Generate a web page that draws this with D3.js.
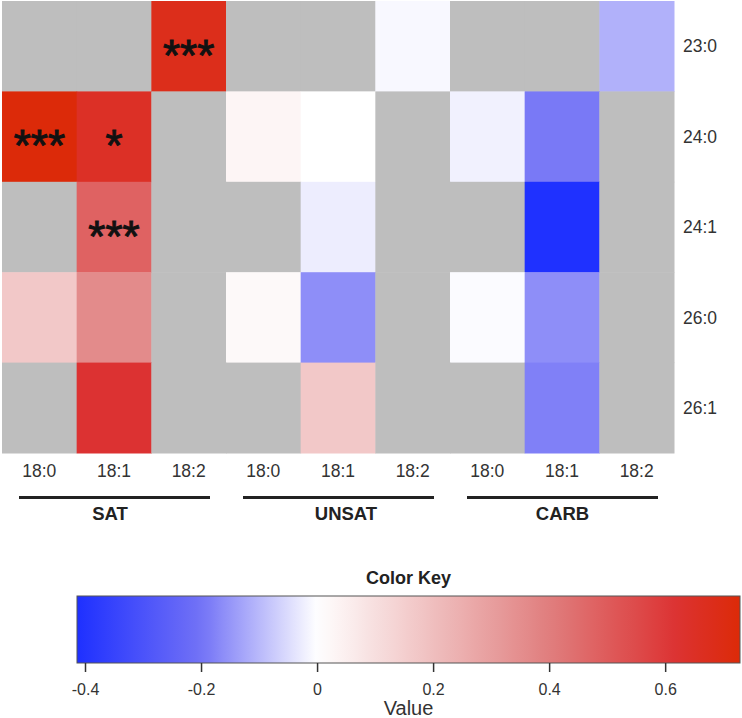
<!DOCTYPE html>
<html>
<head>
<meta charset="utf-8">
<script src="https://cdn.jsdelivr.net/npm/d3@7"></script>
<style>
  html, body { margin: 0; padding: 0; background: #ffffff; }
  svg { display: block; font-family: "Liberation Sans", Arial, Helvetica, sans-serif; }
</style>
</head>
<body>
<svg id="chart" width="742" height="718"></svg>
<script>
// ---------- data ----------
const groups = ["SAT", "UNSAT", "CARB"];
const subLabels = ["18:0", "18:1", "18:2"];
const rowLabels = ["23:0", "24:0", "24:1", "26:0", "26:1"];
// values per row, columns: SAT 18:0,18:1,18:2 | UNSAT 18:0,18:1,18:2 | CARB 18:0,18:1,18:2 ; null = NA (grey)
const row_23_0 = [null, null, 0.68, null, null, -0.01, null, null, -0.11];
const row_24_0 = [0.727, 0.65, null, 0.03, 0.0, null, -0.02, -0.19, null];
const row_24_1 = [null, 0.48, null, null, -0.025, null, null, -0.41, null];
const row_26_0 = [0.17, 0.36, null, 0.02, -0.16, null, -0.005, -0.16, null];
const row_26_1 = [null, 0.62, null, null, 0.17, null, null, -0.18, null];
const values = [row_23_0, row_24_0, row_24_1, row_26_0, row_26_1];
// significance stars: [rowIndex, colIndex, label]
const starRows = [0, 1, 1, 2];
const starCols = [2, 0, 1, 1];
const starLabels = ["***", "***", "*", "***"];
const keyTicks = [-0.4, -0.2, 0, 0.2, 0.4, 0.6];
const keyMin = -0.4138, keyMax = 0.729;

// ---------- setup ----------
const svg = d3.select("#chart");
const colKeys = [];
groups.forEach(g => subLabels.forEach(s => colKeys.push(g + "|" + s)));

const x = d3.scaleBand().domain(colKeys).range([2, 674]).padding(0);
const y = d3.scaleBand().domain(rowLabels).range([1, 453]).padding(0);

const color = d3.scaleLinear()
  .domain([keyMin, -0.2, 0, 0.4, 0.62, keyMax])
  .range(["#1e30ff", "#7272f6", "#ffffff", "#e07e7e", "#dc3232", "#dc2a08"])
  .clamp(true);
const naColor = "#bebebe";

// ---------- cells ----------
const cells = [];
values.forEach((row, ri) => row.forEach((v, ci) => cells.push({ r: rowLabels[ri], c: colKeys[ci], v })));

svg.append("g").selectAll("rect").data(cells).join("rect")
  .attr("x", d => x(d.c))
  .attr("y", d => y(d.r))
  .attr("width", x.bandwidth() + 0.5)
  .attr("height", y.bandwidth() + 0.5)
  .attr("fill", d => d.v === null ? naColor : color(d.v));

// ---------- stars ----------
const starFont = 44;
svg.append("g").selectAll("text").data(starLabels.map((l, i) => ({ l, r: starRows[i], c: starCols[i] }))).join("text")
  .attr("x", d => x(colKeys[d.c]) + x.bandwidth() / 2)
  .attr("y", d => y(rowLabels[d.r]) + y.bandwidth() / 2 + starFont * 0.56)
  .attr("text-anchor", "middle")
  .attr("font-size", starFont)
  .attr("fill", "#111")
  .attr("stroke", "#111")
  .attr("stroke-width", 1)
  .text(d => d.l);

// ---------- row labels ----------
svg.append("g").selectAll("text").data(rowLabels).join("text")
  .attr("x", 683)
  .attr("y", d => y(d) + y.bandwidth() / 2)
  .attr("dy", "0.35em")
  .attr("font-size", 17.5)
  .attr("fill", "#333")
  .text(d => d);

// ---------- column labels ----------
svg.append("g").selectAll("text").data(colKeys).join("text")
  .attr("x", d => x(d) + x.bandwidth() / 2)
  .attr("y", 471)
  .attr("dy", "0.35em")
  .attr("text-anchor", "middle")
  .attr("font-size", 17.5)
  .attr("fill", "#333")
  .text(d => d.split("|")[1]);

// ---------- group lines & labels ----------
const gG = svg.append("g");
const labelShift = [-4.5, 7.5, 0];
groups.forEach((g, gi) => {
  const x0 = x(g + "|" + subLabels[0]);
  const x1 = x(g + "|" + subLabels[2]) + x.bandwidth();
  gG.append("line")
    .attr("x1", x0 + 17).attr("x2", x1 - 16)
    .attr("y1", 497.5).attr("y2", 497.5)
    .attr("stroke", "#222").attr("stroke-width", 3);
  gG.append("text")
    .attr("x", (x0 + 17 + x1 - 16) / 2 + labelShift[gi])
    .attr("y", 514)
    .attr("dy", "0.35em")
    .attr("text-anchor", "middle")
    .attr("font-size", 18.5)
    .attr("font-weight", "bold")
    .attr("fill", "#222")
    .text(g);
});

// ---------- color key ----------
const kx = d3.scaleLinear().domain([keyMin, keyMax]).range([77, 740]);
const kTop = 596, kBot = 663;

const defs = svg.append("defs");
const grad = defs.append("linearGradient").attr("id", "keygrad")
  .attr("x1", "0%").attr("x2", "100%").attr("y1", "0%").attr("y2", "0%");
d3.range(0, 1.0001, 0.02).forEach(t => {
  const v = keyMin + t * (keyMax - keyMin);
  grad.append("stop").attr("offset", (t * 100) + "%").attr("stop-color", color(v));
});

svg.append("rect")
  .attr("x", kx(keyMin)).attr("y", kTop)
  .attr("width", kx(keyMax) - kx(keyMin)).attr("height", kBot - kTop)
  .attr("fill", "url(#keygrad)")
  .attr("stroke", "#555").attr("stroke-width", 1);

const axis = d3.axisBottom(kx)
  .tickValues(keyTicks)
  .tickFormat(d => d === 0 ? "0" : String(d))
  .tickSizeInner(9).tickSizeOuter(0).tickPadding(12);

const ag = svg.append("g").attr("transform", `translate(0,${kBot})`).call(axis);
ag.select(".domain").remove();
ag.selectAll(".tick line").attr("stroke", "#333").attr("stroke-width", 1.5);
ag.selectAll(".tick text").attr("font-size", 16).attr("fill", "#333")
  .attr("font-family", "'Liberation Sans', Arial, sans-serif");

svg.append("text")
  .attr("x", (kx(keyMin) + kx(keyMax)) / 2)
  .attr("y", 578).attr("dy", "0.35em")
  .attr("text-anchor", "middle")
  .attr("font-size", 18).attr("font-weight", "bold").attr("fill", "#222")
  .text("Color Key");

svg.append("text")
  .attr("x", (kx(keyMin) + kx(keyMax)) / 2)
  .attr("y", 708).attr("dy", "0.35em")
  .attr("text-anchor", "middle")
  .attr("font-size", 20).attr("fill", "#333")
  .text("Value");
</script>
</body>
</html>
